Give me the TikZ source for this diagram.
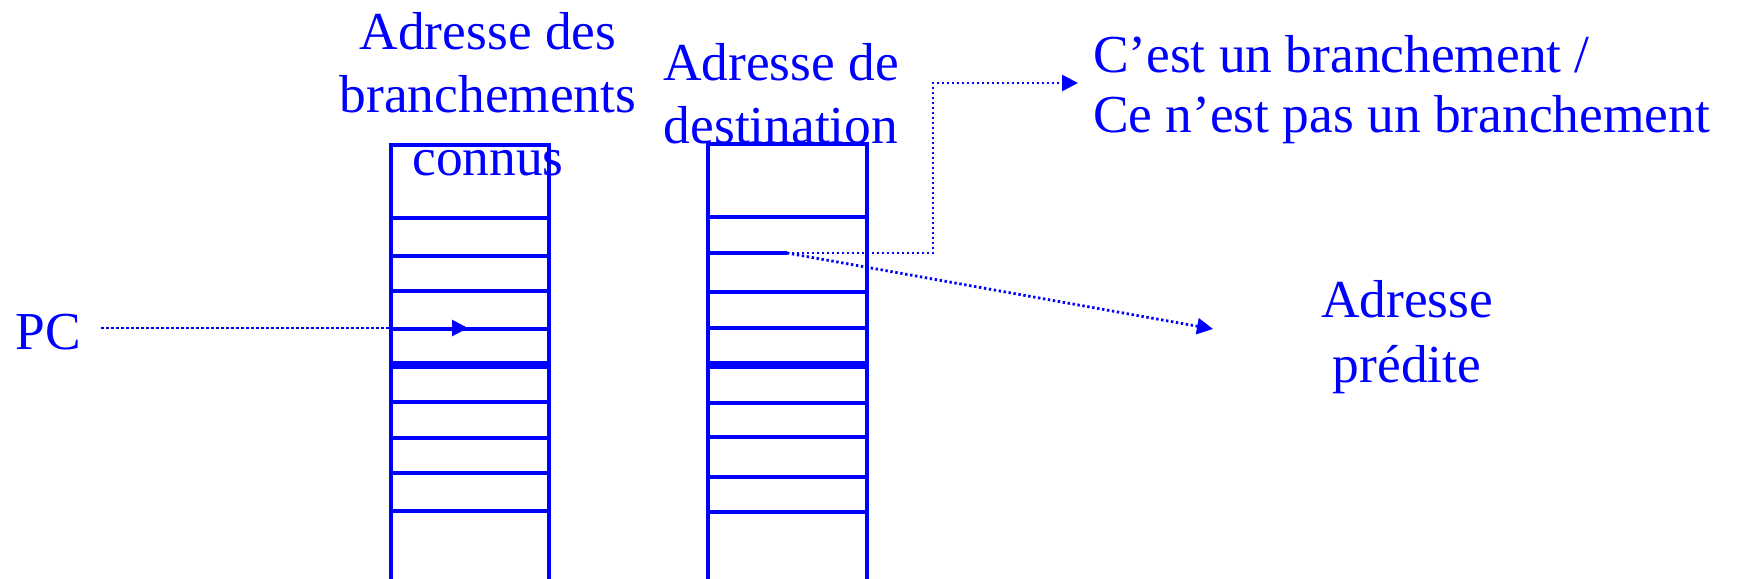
\documentclass[tikz,border=0pt]{standalone}
\usepackage{fontspec}
\setmainfont{Liberation Serif}
\usetikzlibrary{arrows.meta,calc}
\definecolor{ink}{RGB}{0,0,255}
\begin{document}
\begin{tikzpicture}[x=0.5pt,y=-0.5pt,
  every node/.style={inner sep=0pt, outer sep=0pt, text=ink},
  lbl/.style={font=\fontsize{26.7pt}{31.5pt}\selectfont, anchor=base},
  grid/.style={draw=ink, line width=1.7pt},
  ptr/.style={draw=ink, line width=1.4pt, dash pattern=on 1.2pt off 1.3pt,
              -{Triangle[length=8pt,width=8pt]}},
]
\useasboundingbox (0,0) rectangle (1737,579);

% table of known branch addresses
\draw[grid] (391,580) -- (391,145) -- (549,145) -- (549,580);
\foreach \y in {218,256,291,329,363,367,402,438,473,511}
  \draw[grid] (391,\y) -- (549,\y);

% table of target addresses
\draw[grid] (708,580) -- (708,144) -- (867,144) -- (867,580);
\foreach \y in {217,292,328,363,367,403,437,477,512}
  \draw[grid] (708,\y) -- (867,\y);
\draw[grid] (708,253) -- (787,253);

% labels (base anchor sits on the last line)
\node[lbl, align=center] (known) at (488,175) {Adresse des\\branchements\\connus};
\node[lbl, align=center] (target) at (781,143) {Adresse de\\destination};
\node[lbl, align=left, anchor=base west, font=\fontsize{26.7pt}{30pt}\selectfont]
  (taken) at (1093,132) {C’est un branchement /\\Ce n’est pas un branchement};
\node[lbl, align=center, font=\fontsize{26.7pt}{32.5pt}\selectfont]
  (predicted) at (1407,382) {Adresse\\prédite};
\node[lbl, anchor=base west] (pc) at (16,349) {PC};

% connector end points
\coordinate (pcHit) at (468,328);
\coordinate (hitRow) at (787,253);
\coordinate (elbow) at (933,83);
\coordinate (flagEnd) at (1078,83);
\coordinate (predEnd) at (1213,329);

% connectors
\draw[ptr] ($(pc.east |- pcHit)+(20,0)$) -- (pcHit);
\draw[ptr] (hitRow) -| (elbow) -- (flagEnd);
\draw[ptr] (hitRow) -- (predEnd);
\end{tikzpicture}
\end{document}
